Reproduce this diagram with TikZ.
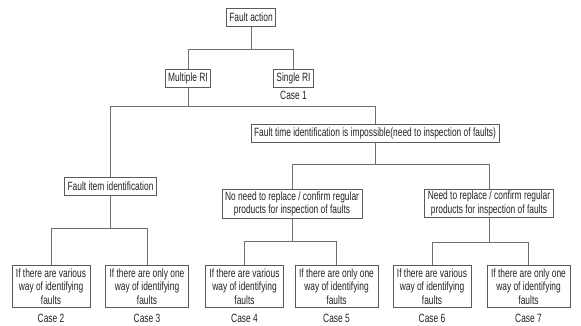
\documentclass[tikz,border=0pt]{standalone}
\usepackage{fontspec}
\setmainfont{Liberation Sans}[FakeStretch=0.7]
\usepackage{tikz}
\usetikzlibrary{positioning}
\definecolor{boxline}{RGB}{90, 90, 90}
\definecolor{linkline}{RGB}{110, 110, 110}
\definecolor{darktext}{RGB}{35, 35, 35}
\tikzset{
    faultbox/.style={
        draw=boxline,
        line width=0.7pt,
        fill=white,
        inner xsep=3pt,
        inner ysep=2pt,
        minimum height=18pt,
        align=center,
        text=darktext,
        font=\fontsize{12}{13.5}\selectfont
    },
    casebox/.style={
        faultbox,
        inner xsep=4pt,
        inner ysep=3pt
    },
    caselabel/.style={
        inner sep=2pt,
        text=darktext,
        font=\fontsize{12}{13.5}\selectfont
    },
    link/.style={
        draw=linkline,
        line width=0.7pt
    }
}

\begin{document}
\begin{tikzpicture}[x=1pt,y=-1pt]
\useasboundingbox (0,0) rectangle (581,326);

\node [faultbox] (action) at (251,17.5) {Fault action};
\node [faultbox] (multi) at (188,78) {Multiple RI};
\node [faultbox] (single) at (293.5,78) {Single RI};
\node [caselabel, below=2pt of single] (case1) {Case 1};

\node [faultbox] (item) at (110.5,186) {Fault item identification};
\node [faultbox] (time) at (375,133) {Fault time identification is impossible(need to inspection of faults)};

\node [faultbox] (noneed) at (292,204) {No need to replace / confirm regular\\products for inspection of faults};
\node [faultbox] (need) at (489,203.5) {Need to replace / confirm regular\\products for inspection of faults};

\node [casebox] (various1) at (51,286.5) {If there are various\\way of identifying\\faults};
\node [casebox] (single1) at (147,286.5) {If there are only one\\way of identifying\\faults};
\node [casebox] (various2) at (244.5,286.5) {If there are various\\way of identifying\\faults};
\node [casebox] (single2) at (336.5,286.5) {If there are only one\\way of identifying\\faults};
\node [casebox] (various3) at (432,286.5) {If there are various\\way of identifying\\faults};
\node [casebox] (single3) at (528.5,286.5) {If there are only one\\way of identifying\\faults};

\node [caselabel, below=4pt of various1] (case2) {Case 2};
\node [caselabel, below=4pt of single1] (case3) {Case 3};
\node [caselabel, below=4pt of various2] (case4) {Case 4};
\node [caselabel, below=4pt of single2] (case5) {Case 5};
\node [caselabel, below=4pt of various3] (case6) {Case 6};
\node [caselabel, below=4pt of single3] (case7) {Case 7};

\coordinate (forkaction) at (0,49);
\coordinate (forkmulti) at (0,106);
\coordinate (forkitem) at (0,228);
\coordinate (forktime) at (0,164);
\coordinate (forknoneed) at (0,241);
\coordinate (forkneed) at (0,242);

\draw [link] (action.south) -- (action.south |- forkaction) -| (multi.north);
\draw [link] (action.south |- forkaction) -| (single.north);

\draw [link] (multi.south) -- (multi.south |- forkmulti) -| (item.north);
\draw [link] (multi.south |- forkmulti) -| (time.north);

\draw [link] (item.south) -- (item.south |- forkitem) -| (various1.north);
\draw [link] (item.south |- forkitem) -| (single1.north);

\draw [link] (time.south) -- (time.south |- forktime) -| (noneed.north);
\draw [link] (time.south |- forktime) -| (need.north);

\draw [link] (noneed.south) -- (noneed.south |- forknoneed) -| (various2.north);
\draw [link] (noneed.south |- forknoneed) -| (single2.north);

\draw [link] (need.south) -- (need.south |- forkneed) -| (various3.north);
\draw [link] (need.south |- forkneed) -| (single3.north);
\end{tikzpicture}
\end{document}
